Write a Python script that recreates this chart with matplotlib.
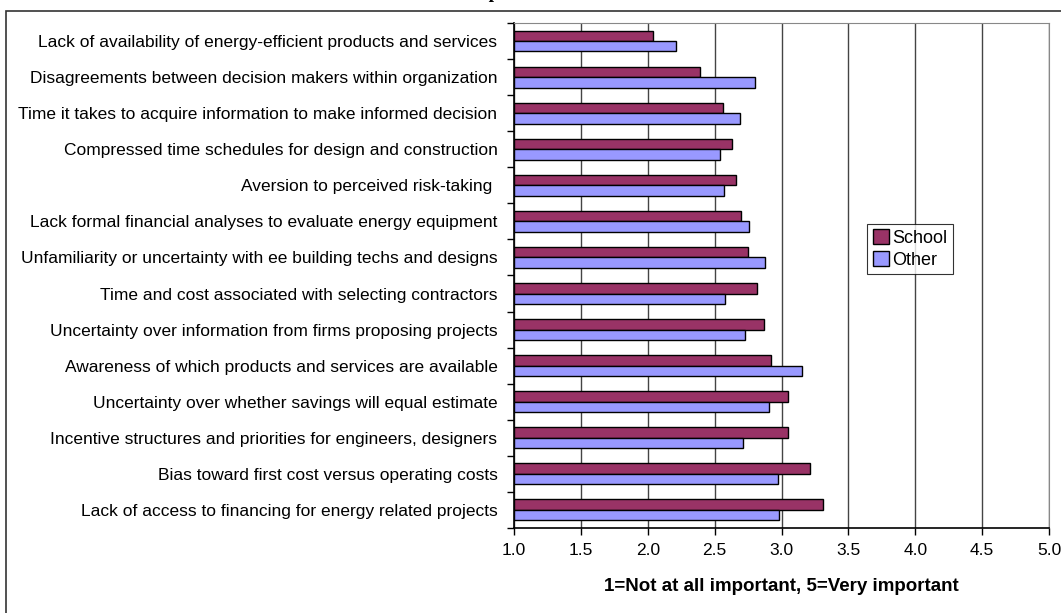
import matplotlib.pyplot as plt
import matplotlib.patches as patches
import numpy as np

plt.rcParams["font.family"] = ["Liberation Sans", "DejaVu Sans"]

barreras = [
    "Lack of availability of energy-efficient products and services",
    "Disagreements between decision makers within organization",
    "Time it takes to acquire information to make informed decision",
    "Compressed time schedules for design and construction",
    "Aversion to perceived risk-taking ",
    "Lack formal financial analyses to evaluate energy equipment",
    "Unfamiliarity or uncertainty with ee building techs and designs",
    "Time and cost associated with selecting contractors",
    "Uncertainty over information from firms proposing projects",
    "Awareness of which products and services are available",
    "Uncertainty over whether savings will equal estimate",
    "Incentive structures and priorities for engineers, designers",
    "Bias toward first cost versus operating costs",
    "Lack of access to financing for energy related projects",
]
school = [2.04, 2.39, 2.56, 2.63, 2.66, 2.70, 2.75, 2.82, 2.87, 2.92, 3.05, 3.05, 3.21, 3.31]
other = [2.21, 2.80, 2.69, 2.54, 2.57, 2.76, 2.88, 2.58, 2.73, 3.15, 2.91, 2.71, 2.97, 2.98]
ticks_x = [1.0, 1.5, 2.0, 2.5, 3.0, 3.5, 4.0, 4.5, 5.0]

fig = plt.figure(figsize=(10.61, 6.13), dpi=100)
ax = fig.add_axes([0.4845, 0.1387, 0.5042, 0.8238])

# marco exterior del grafico
fig.patches.append(patches.Rectangle((0.0057, -0.1), 1.2, 1.082, transform=fig.transFigure,
                                     fill=False, edgecolor="#333333", linewidth=1.2))
# titulo que queda cortado por el borde superior
fig.text(0.439, 1.0 + 1.5 / 613, "Importance", ha="left", va="baseline", fontsize=14,
         fontweight="bold", family="Liberation Serif")

y = np.arange(len(barreras))
alto = 0.29
ax.barh(y - alto / 2, [v - 1 for v in school], alto, left=1, color="#993366",
        edgecolor="black", linewidth=1, label="School", zorder=3)
ax.barh(y + alto / 2, [v - 1 for v in other], alto, left=1, color="#9999FF",
        edgecolor="black", linewidth=1, label="Other", zorder=3)

ax.set_xlim(1, 5)
ax.set_ylim(len(barreras) - 0.5, -0.5)
ax.set_xticks(ticks_x)
ax.set_xticklabels([f"{t:.1f}" for t in ticks_x], fontsize=12.5)
ax.set_yticks(y)
ax.set_yticklabels(barreras, fontsize=12.5)
ax.tick_params(axis="y", length=0, pad=12)
ax.set_yticks(np.arange(len(barreras) + 1) - 0.5, minor=True)
ax.tick_params(axis="y", which="minor", length=5, width=1)
ax.tick_params(axis="x", length=5, width=1, pad=6)
ax.xaxis.grid(True, color="#444444", linewidth=1, zorder=0)
ax.set_axisbelow(True)

for lado in ["top", "right"]:
    ax.spines[lado].set_color("#888888")
for lado in ["left", "bottom"]:
    ax.spines[lado].set_linewidth(1.2)

ax.set_xlabel("1=Not at all important, 5=Very important", fontsize=13.5,
              fontweight="bold", labelpad=14)

leg = ax.legend(loc="center left", bbox_to_anchor=(0.66, 0.5525), fontsize=13,
                frameon=True, fancybox=False, handlelength=0.9, handleheight=0.9,
                handletextpad=0.2, borderpad=0.3, labelspacing=0.25, borderaxespad=0)
leg.get_frame().set_edgecolor("black")
leg.get_frame().set_linewidth(0.8)

fig.savefig("out.png", dpi=100)
